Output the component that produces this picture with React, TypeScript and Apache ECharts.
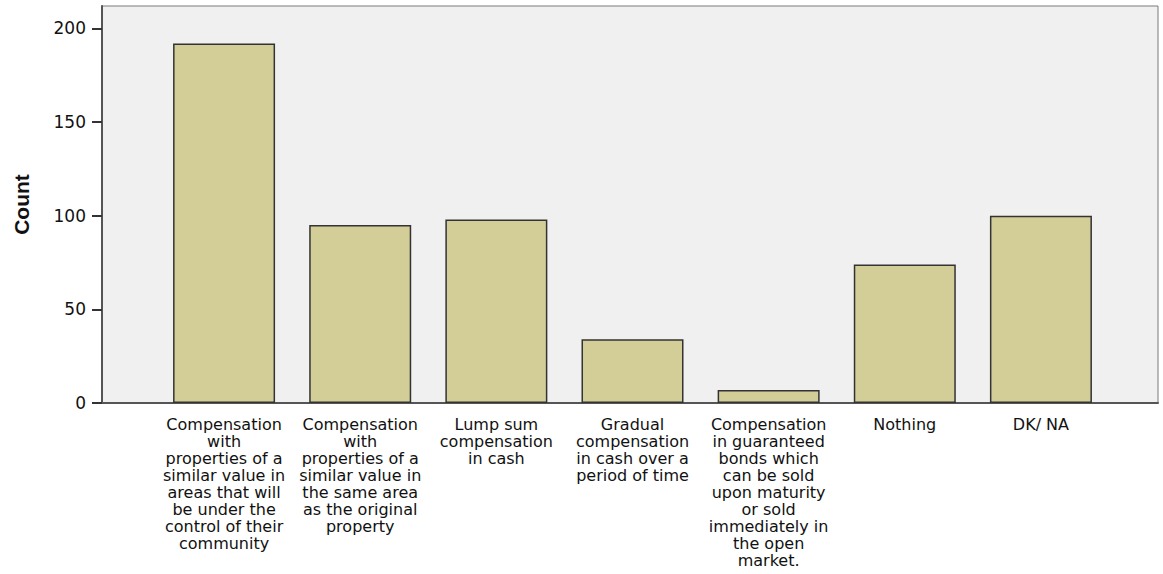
import React, { useEffect, useRef } from "react";
import * as echarts from "echarts";

const categoryLabels = [
  "Compensation\nwith\nproperties of a\nsimilar value in\nareas that will\nbe under the\ncontrol of their\ncommunity",
  "Compensation\nwith\nproperties of a\nsimilar value in\nthe same area\nas the original\nproperty",
  "Lump sum\ncompensation\nin cash",
  "Gradual\ncompensation\nin cash over a\nperiod of time",
  "Compensation\nin guaranteed\nbonds which\ncan be sold\nupon maturity\nor sold\nimmediately in\nthe open\nmarket.",
  "Nothing",
  "DK/ NA",
];
const counts = [192, 95, 98, 34, 7, 74, 100];
const yTicks = [0, 50, 100, 150, 200];

export default function App() {
  const ref = useRef<HTMLDivElement>(null);
  useEffect(() => {
    document.body.style.margin = "0";
    const chart = echarts.init(ref.current!, null, { renderer: "svg" });
    chart.setOption({
      animation: false,
      textStyle: { fontFamily: "DejaVu Sans" },
      grid: [
        { left: 156, right: 54, top: 6, bottom: 171, containLabel: false, outerBoundsMode: "none" },
        {
          left: 102,
          right: 5,
          top: 6,
          bottom: 171,
          containLabel: false,
          outerBoundsMode: "none",
          show: true,
          backgroundColor: "#f0f0f0",
          borderColor: "#7a7a7a",
          borderWidth: 1,
        },
      ],
      xAxis: [
        {
          type: "category",
          gridIndex: 0,
          data: categoryLabels,
          axisLine: { show: false },
          axisTick: { alignWithLabel: true, length: 9, lineStyle: { color: "#333", width: 2 } },
          axisLabel: {
            interval: 0,
            margin: 13,
            fontSize: 16,
            lineHeight: 17,
            color: "#111",
            fontFamily: "DejaVu Sans",
          },
        },
        {
          type: "value",
          gridIndex: 1,
          min: 0,
          max: 1,
          axisLine: { show: true, onZero: false, lineStyle: { color: "#555", width: 2 } },
          axisTick: { show: false },
          axisLabel: { show: false },
          splitLine: { show: false },
        },
      ],
      yAxis: [
        {
          type: "value",
          gridIndex: 0,
          min: 0,
          max: 212,
          offset: 54,
          axisLine: { show: true, lineStyle: { color: "#555", width: 2 } },
          axisTick: { show: true, length: 10, customValues: yTicks, lineStyle: { color: "#333", width: 2 } },
          axisLabel: { customValues: yTicks, margin: 16, fontSize: 17, color: "#111", fontFamily: "DejaVu Sans" },
          splitLine: { show: false },
          name: "Count",
          nameLocation: "middle",
          nameGap: 70,
          nameRotate: 90,
          nameTextStyle: { fontFamily: "Liberation Sans", fontWeight: "bold", fontSize: 21, color: "#111" },
        },
        {
          type: "value",
          gridIndex: 1,
          axisLine: { show: false },
          axisTick: { show: false },
          axisLabel: { show: false },
          splitLine: { show: false },
        },
      ],
      series: [
        {
          type: "bar",
          xAxisIndex: 0,
          yAxisIndex: 0,
          data: counts,
          barWidth: 102,
          itemStyle: { color: "#d3ce97", borderColor: "#333", borderWidth: 1.5 },
        },
      ],
    });
    return () => chart.dispose();
  }, []);
  return (
    <div
      ref={ref}
      style={{ position: "absolute", left: 0, top: 0, width: 1163, height: 574 }}
    />
  );
}
